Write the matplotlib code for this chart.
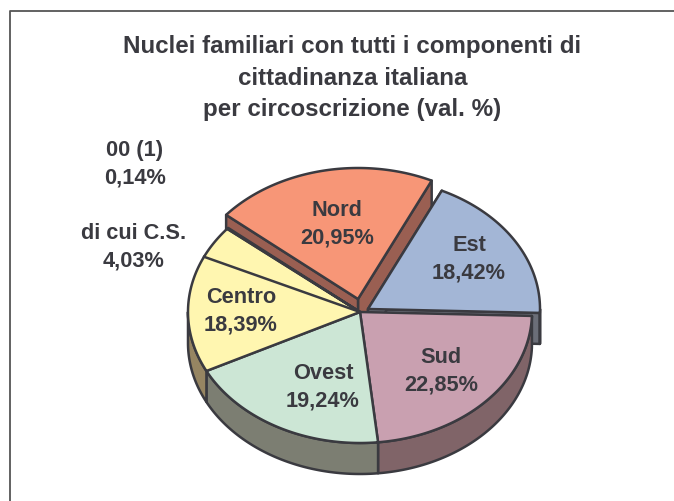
import numpy as np
import matplotlib
matplotlib.use("Agg")
import matplotlib.pyplot as plt
from matplotlib.patches import Polygon

title = "Nuclei familiari con tutti i componenti di\ncittadinanza italiana\nper circoscrizione (val. %)"

# clockwise from the right hand side
names = ["Est", "Sud", "Ovest", "Centro", "00 (1)", "Nord"]
values = [18.42, 22.85, 19.24, 18.39, 0.14, 20.95]
top_colors = ["#a3b6d6", "#c9a0b0", "#cce6d5", "#fff6b0", "#fff6b0", "#f79677"]
side_colors = ["#6b6e78", "#806468", "#7c7e72", "#968562", "#968562", "#9a5f52"]
# part of Centro
sub_name = "di cui C.S."
sub_value = 4.03

# layout, pixels
cx, cy = 360, 312
rx, ry = 172, 131
depth = 31
offsets = {"Est": (8, -3), "Nord": (-2, -13)}
start_angle = 64.6
ink = "#3a3a40"

label_pos = {"Est": (469, 259), "Sud": (441, 371), "Ovest": (323, 387),
             "Centro": (241, 311), "Nord": (337, 224), "00 (1)": (135, 164),
             sub_name: (134, 247)}


def arc(c, t0, t1, dy=0):
    t = np.radians(np.linspace(t0, t1, 120))
    return np.column_stack([c[0] + rx * np.cos(t), c[1] - ry * np.sin(t) + dy])


def draw_slice(ax, name, t0, t1, top, side, z):
    # t0 > t1, going clockwise
    off = offsets.get(name, (0, 0))
    c = (cx + off[0], cy + off[1])
    kw = dict(edgecolor=ink, linewidth=1.8, joinstyle="round", zorder=z)
    # cut faces only show on the slices pulled out of the pie
    if name in offsets:
        for t in (t1, t0):
            rim = arc(c, t, t, 0)[0]
            quad = [c, rim, rim + [0, depth], (c[0], c[1] + depth)]
            ax.add_patch(Polygon(quad, closed=True, facecolor=side, **kw))
    # outer wall, only the front half of the ellipse shows
    if t0 > -180 and t1 < 0:
        hi = min(t0, 0)
        lo = max(t1, -180)
        front_top = arc(c, hi, lo)
        front_bot = arc(c, lo, hi, depth)
        ax.add_patch(Polygon(np.vstack([front_top, front_bot]), closed=True, facecolor=side, **kw))
    pts = np.vstack([[c], arc(c, t0, t1)])
    ax.add_patch(Polygon(pts, closed=True, facecolor=top, **kw))


fig = plt.figure(figsize=(6.74, 5.01), dpi=100)
ax = fig.add_axes([0, 0, 1, 1])
ax.set_xlim(0, 674)
ax.set_ylim(501, 0)
ax.axis("off")

# chart frame is cut by the picture, only top and left are left
ax.plot([9.5, 9.5, 674], [501, 11, 11], color="#555555", lw=1.3, zorder=1)

angles = start_angle - np.cumsum([0] + values) * 3.6
order = [5, 0, 1, 2, 3, 4]  # back slices go first
for z, i in enumerate(order):
    draw_slice(ax, names[i], angles[i], angles[i + 1], top_colors[i], side_colors[i], 2 + z)

# divider for the C.S. share inside Centro
t_sub = angles[4] + sub_value * 3.6
ax.plot(*zip((cx, cy), arc((cx, cy), t_sub, t_sub)[0]), color=ink, lw=1.8, zorder=10)

ax.text(352.5, 78, title, ha="center", va="center", family="Liberation Sans", weight="bold",
        fontsize=17.4, color=ink, linespacing=1.49, zorder=20)

for name, val in zip(names, values):
    x, y = label_pos[name]
    ax.text(x, y, f"{name}\n{val:.2f}%".replace(".", ","), ha="center", va="center",
            family="Liberation Sans", weight="bold", fontsize=15.7, color=ink, linespacing=1.38, zorder=20)
x, y = label_pos[sub_name]
ax.text(x, y, f"{sub_name}\n{sub_value:.2f}%".replace("4.", "4,"), ha="center", va="center",
        family="Liberation Sans", weight="bold", fontsize=15.7, color=ink, linespacing=1.38, zorder=20)

fig.savefig("out.png", dpi=100)
